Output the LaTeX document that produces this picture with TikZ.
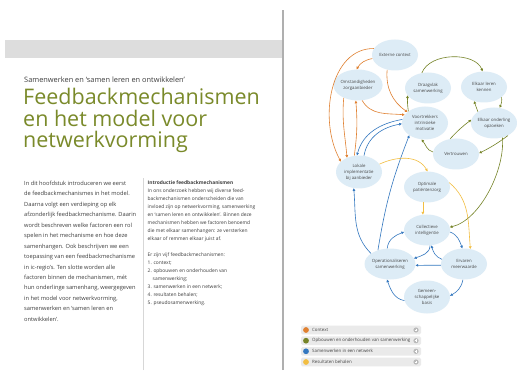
\documentclass[tikz,border=0pt]{standalone}
\usepackage{fontspec}
\setmainfont{Open Sans}
\usetikzlibrary{arrows.meta,shapes.geometric}
\definecolor{bubble}{RGB}{221,236,246}
\definecolor{corange}{RGB}{224,128,48}
\definecolor{colive}{RGB}{118,132,40}
\definecolor{cblue}{RGB}{52,120,192}
\definecolor{cyellow}{RGB}{242,190,66}
\definecolor{titlegreen}{RGB}{122,138,42}
\definecolor{bodytext}{RGB}{62,62,62}
\definecolor{bandgray}{RGB}{221,221,221}
\definecolor{divgray}{RGB}{175,175,175}
\definecolor{coldiv}{RGB}{215,215,215}
\definecolor{legbg}{RGB}{234,234,234}
\definecolor{plusgray}{RGB}{185,185,185}
\definecolor{nodetext}{RGB}{70,70,70}
\tikzset{
  bub/.style={ellipse, fill=bubble, minimum width=46pt, minimum height=31pt, inner sep=0pt,
    align=center, font=\fontsize{4.3}{5.9}\selectfont, text=nodetext},
  bub3/.style={bub, minimum height=33pt},
  con/.style={line width=0.6pt, -{Triangle[length=2.6pt,width=2.6pt]}},
  orng/.style={con, draw=corange},
  oliv/.style={con, draw=colive},
  blu/.style={con, draw=cblue},
  yel/.style={con, draw=cyellow},
  legrow/.style={fill=legbg, rounded corners=1.5pt},
  legtxt/.style={anchor=west, inner sep=0pt, font=\fontsize{4.4}{5}\selectfont, text=nodetext},
  ttl/.style={anchor=base west, inner sep=0pt, font=\fontsize{21.5}{21.5}\selectfont, text=titlegreen},
}
\begin{document}
\begin{tikzpicture}[x=1pt,y=1pt]
\useasboundingbox (0,0) rectangle (517,370);
\fill[white] (0,0) rectangle (517,370);
% left page band and dividers
\fill[bandgray] (5,312) rectangle (283,330);
\draw[divgray, line width=1.2pt] (283,0) -- (283,360);
\draw[coldiv, line width=0.5pt] (143,0) -- (143,192);

% headings
\node[anchor=base west, inner sep=0pt, font=\fontsize{7.4}{8}\selectfont, text=bodytext] (sub) at (24,287)
  {Samenwerken en ‘samen leren en ontwikkelen’};
\node[ttl] (t1) at (23,265) {Feedbackmechanismen};
\node[ttl] (t2) at (23,243.5) {en het model voor};
\node[ttl] (t3) at (23,222) {netwerkvorming};

% left body
\node[anchor=north west, inner sep=0pt, align=left, font=\fontsize{5.7}{10.46}\selectfont, text=bodytext] (body) at (24,189.2)
{In dit hoofdstuk introduceren we eerst\\
de feedbackmechanismes in het model.\\
Daarna volgt een verdieping op elk\\
afzonderlijk feedbackmechanisme. Daarin\\
wordt beschreven welke factoren een rol\\
spelen in het mechanisme en hoe deze\\
samenhangen. Ook beschrijven we een\\
toepassing van een feedbackmechanisme\\
in ic-regio’s. Ten slotte worden alle\\
factoren binnen de mechanismen, mét\\
hun onderlinge samenhang, weergegeven\\
in het model voor netwerkvorming,\\
samenwerken en ‘samen leren en\\
ontwikkelen’.};

% right column
\node[anchor=north west, inner sep=0pt, align=left, font=\fontsize{4.9}{8}\selectfont, text=bodytext] (intro) at (147.5,189.6)
{{\bfseries Introductie feedbackmechanismen}\\
In ons onderzoek hebben wij diverse feed-\\
backmechanismen onderscheiden die van\\
invloed zijn op netwerkvorming, samenwerking\\
en ‘samen leren en ontwikkelen’. Binnen deze\\
mechanismen hebben we factoren benoemd\\
die met elkaar samenhangen: ze versterken\\
elkaar of remmen elkaar juist af.\\[8pt]
Er zijn vijf feedbackmechanismen:\\
1. context;\\
2. opbouwen en onderhouden van\\
\hspace*{5pt}samenwerking;\\
3. samenwerken in een netwerk;\\
4. resultaten behalen;\\
5. pseudosamenwerking.};

% diagram nodes
\node[bub] (ext) at (395,315) {Externe context};
\node[bub] (omst) at (358,285) {Omstandigheden\\zorgaanbieder};
\node[bub] (draag) at (428,282) {Draagvlak\\samenwerking};
\node[bub] (leren) at (484,283) {Elkaar leren\\kennen};
\node[bub3] (voort) at (425,247) {Voortrekkers\\intrinsieke\\motivatie};
\node[bub] (opzoek) at (494,247) {Elkaar onderling\\opzoeken};
\node[bub] (vertr) at (456,216) {Vertrouwen};
\node[bub3] (lokaal) at (359,198) {Lokale\\implementatie\\bij aanbieder};
\node[bub] (optim) at (427,183) {Optimale\\patiëntenzorg};
\node[bub] (coll) at (427,140) {Collectieve\\intelligentie};
\node[bub] (oper) at (390,106) {Operationaliseren\\samenwerking};
\node[bub] (erv) at (464,106) {Ervaren\\meerwaarde};
\node[bub3] (gem) at (427,73) {Gemeen-\\schappelijke\\basis};

% orange: context
\draw[orng] (ext.189) to[out=190,in=60] (omst.95);
\draw[orng] (ext.163) .. controls (330,322) and (318,250) .. (lokaal.150);
\draw[orng] (omst.222) to[out=265,in=95] (lokaal.130);
\draw[orng] (lokaal.106) to[bend right=6] (omst.262);
\draw[orng] (omst.285) to[out=-60,in=175] (voort.158);
\draw[orng] (ext.242) to[out=-95,in=145] (voort.148);

% olive: opbouwen en onderhouden van samenwerking
\draw[oliv] (voort.145) to[bend left=5] (draag.200);
\draw[oliv] (draag.112) .. controls (430,318) and (475,318) .. (leren.95);
\draw[oliv] (leren.330) to[bend left=15] (opzoek.70);
\draw[oliv] (opzoek.145) -- (leren.235);
\draw[oliv] (vertr.111) to[bend left=5] (opzoek.172);
\draw[oliv] (opzoek.318) to[bend left=5] (vertr.2);
\draw[oliv] (opzoek.300) .. controls (505,200) and (480,150) .. (coll.7);
\draw[oliv] (vertr.175) to[out=165,in=-50] (voort.258);

% blue: samenwerken in een netwerk
\draw[blu] (voort.171) to[out=190,in=75] (lokaal.97);
\draw[blu] (lokaal.73) to[out=80,in=190] (voort.182);
\draw[blu] (oper.131) to[bend left=6] (voort.218);
\draw[blu] (oper.151) to[out=135,in=-85] (lokaal.252);
\draw[blu] (oper.100) to[out=85,in=200] (coll.185);
\draw[blu] (coll.355) to[out=-20,in=110] (erv.96);
\draw[blu] (coll.281) to[out=-90,in=20] (oper.13);
\draw[blu] (erv.168) to[out=160,in=-75] (coll.286);
\draw[blu] (erv.183) -- (oper.357);
\draw[blu] (erv.266) to[out=-100,in=30] (gem.3);
\draw[blu] (gem.189) to[out=170,in=-70] (oper.259);

% yellow: resultaten behalen
\draw[yel] (lokaal.21) to[out=25,in=120] (optim.88);
\draw[yel] (optim.255) -- (coll.105);
\draw[yel] (optim.11) to[out=-40,in=95] (erv.67);

% legend
\foreach \yy/\col/\lbl/\nm in {40/corange/Context/l1, 29.3/colive/Opbouwen en onderhouden van samenwerking/l2, 18.7/cblue/Samenwerken in een netwerk/l3, 8/cyellow/Resultaten behalen/l4}{
  \fill[legrow] (301,\yy-4.3) rectangle (421,\yy+4.3);
  \fill[\col] (306,\yy) circle (2.9);
  \fill[plusgray] (416,\yy) circle (2.6);
  \draw[white, line width=0.6pt] (414.6,\yy) -- (417.4,\yy) (416,\yy-1.4) -- (416,\yy+1.4);
  \node[legtxt] (\nm) at (312,\yy) {\lbl};
}
\end{tikzpicture}
\end{document}
